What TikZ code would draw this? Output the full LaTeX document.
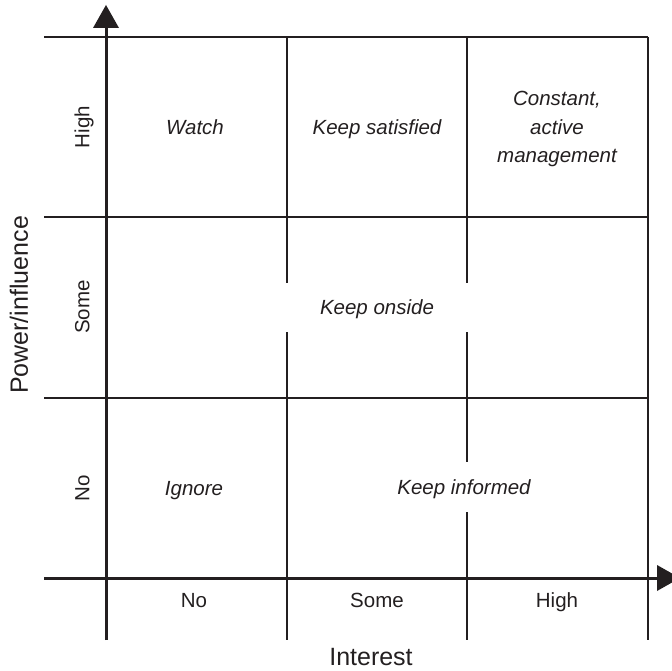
\documentclass[tikz,border=0pt]{standalone}
\usepackage{fontspec}
\setmainfont{Liberation Sans}
\definecolor{ink}{RGB}{35,31,32}
\begin{document}
\begin{tikzpicture}[x=1pt,y=-1pt,
  gridline/.style={draw=ink,line width=1.5pt},
  axisline/.style={draw=ink,line width=3pt},
  arrowhead/.style={fill=ink,draw=none},
  celltext/.style={text=ink,font=\fontsize{20.5}{28.5}\selectfont\itshape,inner sep=0pt,text height=14.7pt,text depth=0pt,align=center},
  ticktext/.style={text=ink,font=\fontsize{20.5}{24}\selectfont,inner sep=0pt,text height=14.7pt,text depth=0pt},
  titletext/.style={text=ink,font=\fontsize{25}{30}\selectfont,inner sep=0pt,text height=17.9pt,text depth=0pt},
  gapcover/.style={fill=white}]
\clip (0,0) rectangle (672,671);
% grid
\draw[gridline] (44,37) -- (648,37);
\draw[gridline] (44,217) -- (648,217);
\draw[gridline] (44,398) -- (648,398);
\draw[gridline] (287,37) -- (287,640);
\draw[gridline] (467,37) -- (467,640);
\draw[gridline] (648,37) -- (648,640);
% axes
\draw[axisline] (106,640) -- (106,26);
\draw[axisline] (44,578) -- (659,578);
\fill[arrowhead] (93,28) -- (119,28) -- (106,5) -- cycle;
\fill[arrowhead] (657,565) -- (657,591) -- (680,578) -- cycle;
% cell labels
\node[celltext] (watch) at (195,127) {Watch};
\node[celltext] (satisfied) at (377,127) {Keep satisfied};
\node[celltext,text height=,text depth=] (constant) at (557,129) {Constant,\\active\\management};
\node[celltext,gapcover,minimum width=200pt,minimum height=49pt] (onside) at (377,307) {Keep onside};
\node[celltext] (ignore) at (194,488) {Ignore};
\node[celltext,gapcover,minimum width=150pt,minimum height=50pt] (informed) at (464,487) {Keep informed};
% vertical tick labels
\node[ticktext,rotate=90] (vhigh) at (82,127) {High};
\node[ticktext,rotate=90] (vsome) at (82,307) {Some};
\node[ticktext,rotate=90] (vno) at (82,488) {No};
% horizontal tick labels
\node[ticktext] (hno) at (194,600) {No};
\node[ticktext] (hsome) at (377,600) {Some};
\node[ticktext] (hhigh) at (557,600) {High};
% axis titles
\node[titletext,rotate=90] (ytitle) at (19,305) {Power/influence};
\node[titletext] (xtitle) at (371,657) {Interest};
\end{tikzpicture}
\end{document}
